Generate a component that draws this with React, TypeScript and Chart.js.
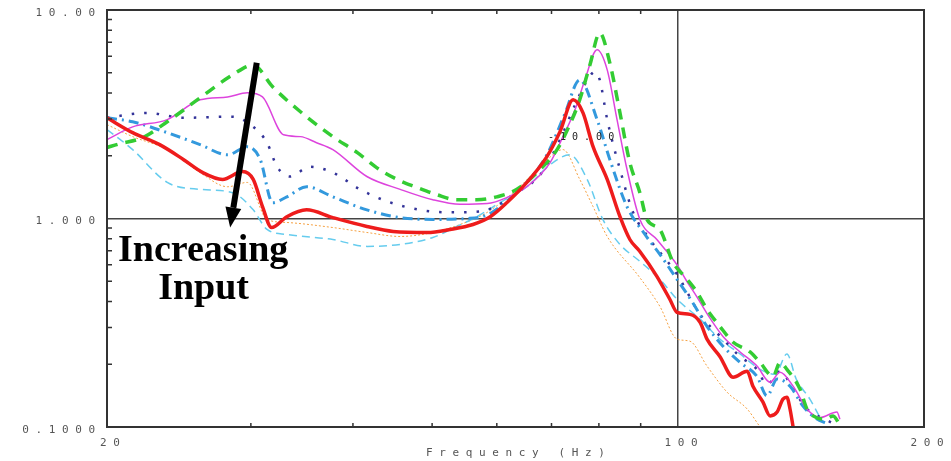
import React, { useEffect, useRef } from "react";
import { Chart, registerables } from "chart.js";
Chart.register(...registerables);

// ---- axis ticks / labels ----
const xTicks = [20, 30, 40, 50, 60, 70, 80, 90, 100, 200];
const xMinor = [30, 40, 50, 60, 70, 80, 90];
const xLabels: Record<string, string> = { "20": "2 0", "100": "1 0 0", "200": "2 0 0" };
const yTicks = [0.1, 1, 10];
const yMinor = [0.2, 0.3, 0.4, 0.5, 0.6, 0.7, 0.8, 0.9, 2, 3, 4, 5, 6, 7, 8, 9];
const yLabels: Record<string, string> = { "0.1": "0 . 1 0 0 0", "1": "1 . 0 0 0", "10": "1 0 . 0 0" };
const xTitle = "F r e q u e n c y   ( H z )";

// ---- annotations ----
const noteLines = ["Increasing", "Input"];
const noteAnchors = [[20.63, 0.623], [23.1, 0.409]];
const arrowFrom = [30.5, 5.58];
const arrowTo = [28.3, 0.905];
const markerText = "- 1 0 . 0 0";
const markerAnchor = [69.3, 2.44];

// ---- series (frequency Hz, magnitude) ----
const redF = [20, 21.5, 23.2, 24.8, 26.2, 27.7, 29.3, 30.2, 31.0, 31.8, 33.2, 35.1, 37.8, 41.6, 44.8, 49.3, 52.6, 56.1, 58.9, 61.7, 65.3, 69.1, 71.7, 74.4, 76.5, 78.7, 81.9, 84.9, 87.3, 89.8, 94.2, 97.7, 99.7, 103.4, 106.4, 108.5, 112.5, 116.8, 121.5, 123.5, 127.0, 129.6, 132.2, 134.4, 135.9, 137.1, 138.3];
const redV = [3.04, 2.58, 2.26, 1.92, 1.66, 1.54, 1.68, 1.54, 1.14, 0.905, 1.02, 1.10, 1.01, 0.916, 0.867, 0.857, 0.886, 0.936, 1.02, 1.19, 1.49, 1.98, 2.61, 3.71, 3.21, 2.21, 1.54, 1.02, 0.793, 0.695, 0.528, 0.41, 0.355, 0.347, 0.318, 0.264, 0.218, 0.173, 0.185, 0.157, 0.132, 0.113, 0.118, 0.136, 0.139, 0.122, 0.100];

const greenF = [20, 20.7, 22.1, 23.7, 26.0, 28.5, 30.2, 31.9, 34.5, 37.8, 40.5, 42.8, 45.3, 47.9, 50.7, 53.6, 56.7, 60.0, 63.5, 67.8, 71.1, 73.7, 75.8, 78.0, 80.2, 82.5, 84.9, 87.3, 89.8, 91.6, 95.0, 98.6, 102.6, 105.5, 108.5, 112.5, 116.8, 122.5, 126.0, 130.7, 133.3, 135.9, 141.0, 143.8, 146.3, 151.3, 154.8, 157.8];
const greenV = [2.19, 2.28, 2.44, 2.91, 3.79, 4.89, 5.45, 4.28, 3.25, 2.47, 2.07, 1.75, 1.54, 1.41, 1.30, 1.23, 1.23, 1.27, 1.38, 1.72, 2.14, 2.82, 3.71, 5.45, 7.76, 5.58, 3.21, 1.85, 1.33, 0.99, 0.886, 0.616, 0.511, 0.443, 0.367, 0.304, 0.255, 0.229, 0.204, 0.175, 0.204, 0.189, 0.152, 0.122, 0.113, 0.109, 0.113, 0.102];

const magentaF = [20, 21.5, 23.7, 26.0, 28.1, 29.7, 31.0, 32.9, 34.5, 36.1, 37.8, 41.6, 45.7, 50.1, 54.1, 58.4, 61.7, 65.3, 69.7, 72.3, 74.8, 76.9, 79.6, 81.9, 84.2, 86.6, 89.8, 94.2, 99.7, 102.5, 105.5, 108.5, 113.5, 119.1, 124.9, 129.6, 133.3, 138.3, 143.8, 149.2, 156.5, 157.8];
const magentaV = [2.39, 2.75, 2.98, 3.71, 3.83, 4.01, 3.83, 2.52, 2.47, 2.31, 2.14, 1.59, 1.38, 1.23, 1.17, 1.18, 1.26, 1.42, 1.85, 2.47, 3.32, 4.62, 6.44, 5.16, 2.98, 1.72, 0.99, 0.793, 0.60, 0.50, 0.42, 0.35, 0.272, 0.229, 0.196, 0.164, 0.183, 0.157, 0.122, 0.111, 0.118, 0.109];

const blueF = [20, 21.5, 23.7, 26.0, 28.1, 29.7, 30.8, 31.9, 33.2, 35.1, 37.8, 41.6, 45.7, 50.1, 55.2, 58.4, 61.7, 65.3, 69.1, 72.6, 75.8, 79.6, 82.5, 86.6, 91.1, 95.0, 99.7, 104.0, 108.5, 113.5, 119.1, 124.9, 128.5, 132.2, 137.1, 142.2, 147.0, 153.0];
const blueV = [3.04, 2.91, 2.58, 2.26, 2.02, 2.21, 1.92, 1.19, 1.27, 1.42, 1.27, 1.10, 1.01, 0.99, 1.00, 1.04, 1.21, 1.49, 2.02, 3.14, 4.62, 2.98, 1.92, 1.14, 0.838, 0.673, 0.511, 0.40, 0.304, 0.244, 0.204, 0.175, 0.141, 0.170, 0.157, 0.126, 0.111, 0.103];

const navyF = [20, 22.4, 24.8, 28.5, 30.2, 31.4, 32.3, 33.5, 35.4, 37.8, 40.8, 44.0, 48.3, 52.6, 57.2, 60.5, 63.5, 67.8, 71.7, 74.8, 77.4, 79.1, 80.2, 81.9, 84.9, 88.1, 92.4, 99.7, 106.4, 113.5, 119.1, 124.9, 128.5, 133.3, 138.3, 143.8, 151.3, 155.5];
const navyV = [3.04, 3.21, 3.04, 3.08, 2.75, 2.31, 1.77, 1.59, 1.77, 1.66, 1.38, 1.21, 1.10, 1.07, 1.08, 1.17, 1.33, 1.62, 2.39, 3.51, 4.6, 5.05, 4.62, 2.98, 1.72, 1.07, 0.793, 0.54, 0.347, 0.264, 0.218, 0.189, 0.16, 0.185, 0.152, 0.122, 0.109, 0.103];

const cyanF = [20, 21.5, 23.7, 26.0, 28.5, 30.2, 31.4, 33.2, 37.8, 41.6, 45.7, 50.1, 53.6, 56.7, 60.5, 65.3, 69.7, 73.7, 77.4, 80.9, 84.9, 89.8, 95.0, 99.7, 106.4, 112.5, 119.1, 126.0, 131.5, 135.9, 139.5, 145.0, 149.2];
const cyanV = [2.67, 2.14, 1.49, 1.38, 1.33, 1.10, 0.886, 0.838, 0.793, 0.735, 0.751, 0.811, 0.916, 1.02, 1.19, 1.42, 1.81, 2.02, 1.54, 0.99, 0.751, 0.623, 0.511, 0.41, 0.329, 0.264, 0.224, 0.189, 0.179, 0.224, 0.170, 0.136, 0.111];

const orangeF = [20, 21.5, 23.7, 26.0, 28.1, 29.7, 31.4, 33.2, 37.8, 41.6, 45.7, 50.1, 54.1, 58.4, 63.5, 67.8, 72.3, 75.8, 78.7, 81.9, 89.8, 95.0, 99.7, 103.4, 108.5, 114.8, 121.5, 126.0];
const orangeV = [2.82, 2.47, 2.14, 1.66, 1.42, 1.49, 0.99, 0.957, 0.905, 0.857, 0.820, 0.857, 0.936, 1.07, 1.38, 1.77, 2.14, 1.54, 1.14, 0.820, 0.52, 0.379, 0.264, 0.258, 0.196, 0.147, 0.122, 0.100];

const pts = (f: number[], v: number[]) => f.map((x, i) => ({ x, y: v[i] }));

const overlay = {
  id: "overlay",
  afterDraw(chart: any) {
    const { ctx, chartArea: a, scales } = chart;
    const xs = scales.x;
    const ys = scales.y;
    ctx.save();
    // minor ticks
    ctx.strokeStyle = "#333";
    ctx.lineWidth = 1.5;
    ctx.beginPath();
    for (const v of xMinor) {
      const px = xs.getPixelForValue(v);
      ctx.moveTo(px, a.bottom);
      ctx.lineTo(px, a.bottom - 4);
      ctx.moveTo(px, a.top);
      ctx.lineTo(px, a.top + 4);
    }
    for (const v of yMinor) {
      const py = ys.getPixelForValue(v);
      ctx.moveTo(a.left, py);
      ctx.lineTo(a.left + 5, py);
    }
    ctx.stroke();
    // frame
    ctx.lineWidth = 2;
    ctx.strokeStyle = "#333";
    ctx.strokeRect(a.left, a.top, a.right - a.left, a.bottom - a.top);
    // arrow
    const x1 = xs.getPixelForValue(arrowFrom[0]);
    const y1 = ys.getPixelForValue(arrowFrom[1]);
    const x2 = xs.getPixelForValue(arrowTo[0]);
    const y2 = ys.getPixelForValue(arrowTo[1]);
    const ang = Math.atan2(y2 - y1, x2 - x1);
    const headLen = 20;
    const headW = 8;
    const bx = x2 - headLen * Math.cos(ang);
    const by = y2 - headLen * Math.sin(ang);
    ctx.strokeStyle = "#000";
    ctx.lineWidth = 6;
    ctx.beginPath();
    ctx.moveTo(x1, y1);
    ctx.lineTo(bx, by);
    ctx.stroke();
    ctx.fillStyle = "#000";
    ctx.beginPath();
    ctx.moveTo(x2, y2);
    ctx.lineTo(bx + headW * Math.sin(ang), by - headW * Math.cos(ang));
    ctx.lineTo(bx - headW * Math.sin(ang), by + headW * Math.cos(ang));
    ctx.closePath();
    ctx.fill();
    // notes
    ctx.font = "bold 38px 'Liberation Serif'";
    ctx.textAlign = "left";
    ctx.textBaseline = "alphabetic";
    noteLines.forEach((t, i) => {
      ctx.fillText(t, xs.getPixelForValue(noteAnchors[i][0]), ys.getPixelForValue(noteAnchors[i][1]));
    });
    ctx.font = "10px 'DejaVu Sans Mono'";
    ctx.fillStyle = "#222";
    ctx.textBaseline = "middle";
    ctx.fillText(markerText, xs.getPixelForValue(markerAnchor[0]), ys.getPixelForValue(markerAnchor[1]));
    ctx.restore();
  },
};

export default function App() {
  const ref = useRef<HTMLCanvasElement>(null);
  useEffect(() => {
    const tickFont = { family: "'DejaVu Sans Mono'", size: 11 };
    const chart = new Chart(ref.current as HTMLCanvasElement, {
      type: "line",
      data: {
        datasets: [
          { label: "red", data: pts(redF, redV), borderColor: "#ee1c1c", borderWidth: 3.5 },
          { label: "green", data: pts(greenF, greenV), borderColor: "#33cc33", borderWidth: 3.5, borderDash: [11, 8] },
          { label: "magenta", data: pts(magentaF, magentaV), borderColor: "#dd44dd", borderWidth: 1.5 },
          { label: "blue", data: pts(blueF, blueV), borderColor: "#3399dd", borderWidth: 3, borderDash: [10, 5, 2, 5] },
          { label: "navy", data: pts(navyF, navyV), borderColor: "#333399", borderWidth: 2.5, borderDash: [2.5, 10] },
          { label: "cyan", data: pts(cyanF, cyanV), borderColor: "#66ccee", borderWidth: 1.5, borderDash: [8, 5] },
          { label: "orange", data: pts(orangeF, orangeV), borderColor: "#f5a040", borderWidth: 1, borderDash: [2, 2] },
        ].map((d) => ({ ...d, pointRadius: 0, fill: false, cubicInterpolationMode: "monotone" as const })),
      },
      options: {
        responsive: false,
        animation: false,
        devicePixelRatio: 1,
        layout: { padding: { left: 0, right: 27, top: 10, bottom: 0 } },
        plugins: { legend: { display: false }, tooltip: { enabled: false } },
        scales: {
          x: {
            type: "logarithmic",
            min: 20,
            max: 200,
            afterFit: (s: any) => { s.height = 34; s.paddingLeft = 0; s.paddingRight = 0; },
            afterBuildTicks: (s: any) => { s.ticks = xTicks.map((v) => ({ value: v })); },
            ticks: {
              autoSkip: false,
              maxRotation: 0,
              padding: 10,
              labelOffset: 3,
              color: "#555",
              font: tickFont,
              callback: (v: any) => xLabels[String(v)] ?? "",
            },
            grid: {
              drawTicks: false,
              color: (c: any) => (c.tick && c.tick.value === 100 ? "#444" : "rgba(0,0,0,0)"),
              lineWidth: 1.5,
            },
            border: { display: false },
            title: { display: true, text: xTitle, color: "#555", font: tickFont, padding: { top: 0, bottom: 1 } },
          },
          y: {
            type: "logarithmic",
            min: 0.1,
            max: 10,
            afterFit: (s: any) => { s.width = 107; s.paddingTop = 0; s.paddingBottom = 0; },
            afterBuildTicks: (s: any) => { s.ticks = yTicks.map((v) => ({ value: v })); },
            ticks: {
              autoSkip: false,
              padding: 12,
              labelOffset: 3,
              color: "#555",
              font: tickFont,
              callback: (v: any) => yLabels[String(v)] ?? "",
            },
            grid: {
              drawTicks: false,
              color: (c: any) => (c.tick && c.tick.value === 1 ? "#444" : "rgba(0,0,0,0)"),
              lineWidth: 1.5,
            },
            border: { display: false },
          },
        },
      },
      plugins: [overlay],
    });
    return () => chart.destroy();
  }, []);
  return (
    <div style={{ position: "fixed", left: 0, top: 0, width: 951, height: 461, background: "#fff" }}>
      <canvas ref={ref} width={951} height={461} style={{ display: "block" }} />
    </div>
  );
}
